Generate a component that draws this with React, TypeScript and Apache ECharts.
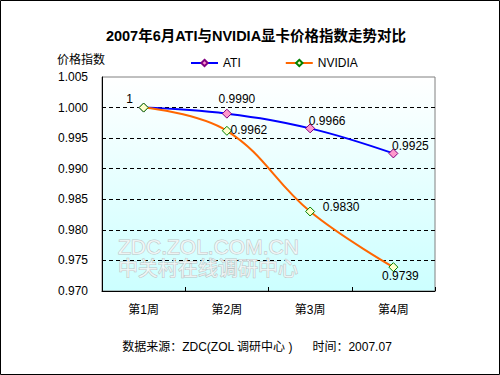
import React, { useEffect, useRef } from "react";
import * as echarts from "echarts";

const categories = ["第1周", "第2周", "第3周", "第4周"];
const atiValues = [1, 0.999, 0.9966, 0.9925];
const nvidiaValues = [1, 0.9962, 0.983, 0.9739];
const yMin = 0.97;
const yMax = 1.005;
const yStep = 0.005;
const titleText = "2007年6月ATI与NVIDIA显卡价格指数走势对比";
const yName = "价格指数";
const footerText = "数据来源：ZDC(ZOL 调研中心 )      时间：2007.07";

const fmt = (v: number) => (v === 1 ? "1" : v.toFixed(4));

export default function App() {
  const ref = useRef<HTMLDivElement>(null);
  useEffect(() => {
    document.body.style.margin = "0";
    const chart = echarts.init(ref.current!, undefined, { renderer: "svg" });
    const font = "Arial, 'Liberation Sans', 'Noto Sans CJK SC', sans-serif";
    const atiOffsets = [null, [10, -15], [17, -7], [17, -7]];
    const nvOffsets = [[-14, -9], [22, -1], [31, -5], [7, 9]];
    const mk = (vals: number[], offs: any[]) =>
      vals.map((v, i) => ({
        value: v,
        label: offs[i]
          ? { show: true, position: "inside", offset: offs[i], formatter: fmt(v) }
          : { show: false },
      }));
    chart.setOption({
      animation: false,
      backgroundColor: "#ffffff",
      textStyle: { fontFamily: font },
      grid: {
        left: 102,
        top: 77,
        width: 333,
        height: 214,
        show: true,
        borderColor: "#808080",
        borderWidth: 1,
        backgroundColor: new echarts.graphic.LinearGradient(0, 0, 0, 1, [
          { offset: 0, color: "#ffffff" },
          { offset: 1, color: "#ccffff" },
        ]),
      },
      legend: {
        left: 185,
        top: 52,
        itemWidth: 27,
        itemHeight: 8,
        itemGap: 44,
        textStyle: { fontSize: 12, color: "#000", fontFamily: font },
        data: ["ATI", "NVIDIA"],
      },
      graphic: [
        {
          type: "rect",
          shape: { x: 0.5, y: 0.5, width: 499, height: 374 },
          style: { fill: "none", stroke: "#000", lineWidth: 1 },
          silent: true,
        },
        {
          type: "text",
          x: 256,
          y: 36,
          style: {
            text: titleText,
            font: "bold 14.5px " + font,
            fill: "#000",
            align: "center",
            verticalAlign: "middle",
          },
        },
        {
          type: "text",
          x: 57,
          y: 60,
          style: { text: yName, font: "12px " + font, fill: "#000", verticalAlign: "middle" },
        },
        {
          type: "text",
          x: 257,
          y: 347,
          style: {
            text: footerText,
            font: "12px " + font,
            fill: "#000",
            align: "center",
            verticalAlign: "middle",
          },
        },
        {
          type: "text",
          x: 118,
          y: 246,
          z: 1,
          style: {
            text: "ZDC.ZOL.COM.CN",
            font: "21px " + font,
            fill: "rgba(255,255,255,0.7)",
            stroke: "#bcc4c4",
            lineWidth: 1,
            verticalAlign: "middle",
          },
        },
        {
          type: "text",
          x: 118,
          y: 269,
          z: 1,
          style: {
            text: "中关村在线调研中心",
            font: "20px " + font,
            fill: "rgba(255,255,255,0.7)",
            stroke: "#bcc4c4",
            lineWidth: 1,
            verticalAlign: "middle",
          },
        },
      ],
      xAxis: {
        type: "category",
        data: categories,
        boundaryGap: true,
        axisLine: { lineStyle: { color: "#000", width: 1 } },
        axisTick: { show: true, inside: true, length: 4, lineStyle: { color: "#000" } },
        axisLabel: { fontSize: 12, color: "#000", margin: 13 },
      },
      yAxis: {
        type: "value",
        min: yMin,
        max: yMax,
        interval: yStep,
        axisLine: { show: true, lineStyle: { color: "#000", width: 1 } },
        axisTick: { show: false },
        axisLabel: { fontSize: 12, color: "#000", margin: 14, formatter: (v: number) => v.toFixed(3) },
        splitLine: {
          show: true,
          showMinLine: false,
          showMaxLine: false,
          lineStyle: { color: "#000", type: [4, 3], width: 1 },
        },
      },
      series: [
        {
          name: "ATI",
          type: "line",
          smooth: 0.4,
          data: mk(atiValues, atiOffsets),
          z: 3,
          lineStyle: { color: "#0000ff", width: 2 },
          itemStyle: { color: "#ff99cc", borderColor: "#800080", borderWidth: 1 },
          symbol: "diamond",
          symbolSize: 9,
          label: { color: "#000", fontSize: 12 },
        },
        {
          name: "NVIDIA",
          type: "line",
          smooth: 0.4,
          data: mk(nvidiaValues, nvOffsets),
          z: 4,
          lineStyle: { color: "#ff6600", width: 2 },
          itemStyle: { color: "#ffffcc", borderColor: "#008000", borderWidth: 1 },
          symbol: "diamond",
          symbolSize: 9,
          label: { color: "#000", fontSize: 12 },
        },
      ],
    });
    return () => chart.dispose();
  }, []);
  return <div ref={ref} style={{ width: 500, height: 375 }} />;
}
